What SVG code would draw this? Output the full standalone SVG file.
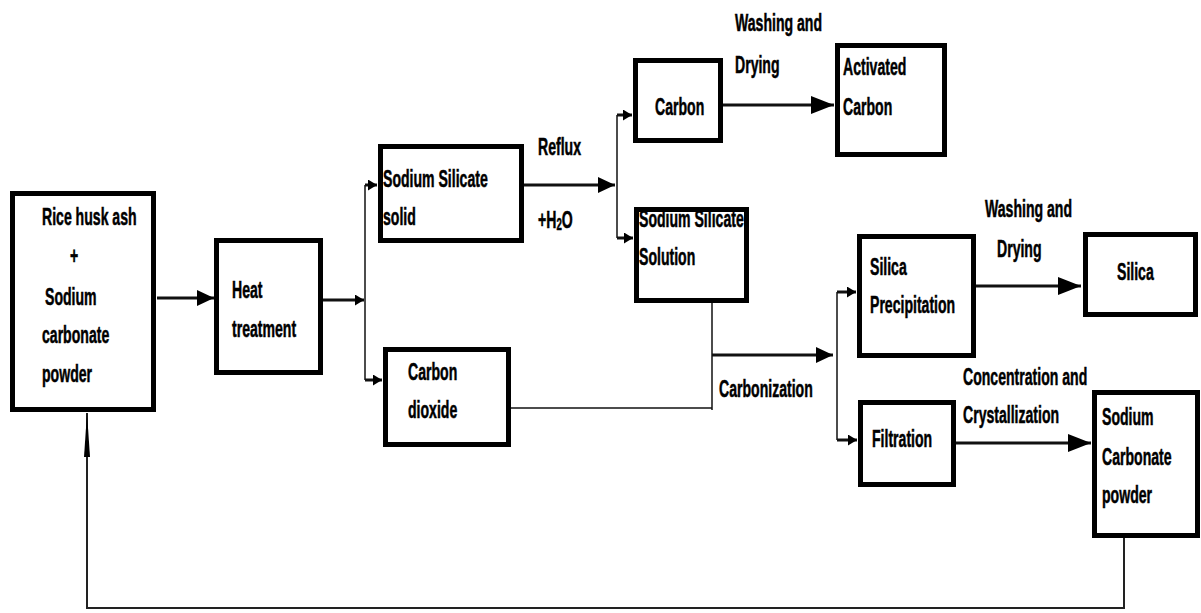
<svg xmlns="http://www.w3.org/2000/svg" width="1201" height="613" viewBox="0 0 1201 613">
<style>
.box{fill:#fff;stroke:#000;stroke-width:5}
.t{font-family:"Liberation Sans",Arial,sans-serif;font-weight:bold;font-size:16px;fill:#000;stroke:#000;stroke-width:0.35}
.ln{fill:none;stroke:#111;stroke-width:3}
.th{fill:none;stroke:#111;stroke-width:1.5}
</style>
<defs>
<marker id="ah" markerUnits="userSpaceOnUse" markerWidth="18" markerHeight="16" refX="17" refY="8" orient="auto"><path d="M0,0 L17,8 L0,16 Z" fill="#000"/></marker>
<marker id="ahl" markerUnits="userSpaceOnUse" markerWidth="24" markerHeight="18" refX="23" refY="9" orient="auto"><path d="M0,0 L23,9 L0,18 Z" fill="#000"/></marker>
<marker id="ahs" markerUnits="userSpaceOnUse" markerWidth="10" markerHeight="11" refX="9" refY="5.5" orient="auto"><path d="M0,0 L9,5.5 L0,11 Z" fill="#000"/></marker>
<marker id="ahf" markerUnits="userSpaceOnUse" markerWidth="45" markerHeight="8" refX="44" refY="4" orient="auto"><path d="M0,1 L44,4 L0,7 Z" fill="#000"/></marker>
</defs>

<g id="connectors">
<path class="ln" d="M157,298 H214" marker-end="url(#ah)"/>
<path class="ln" d="M323,300 H364" marker-end="url(#ahs)"/>
<path class="th" d="M365,185 V380"/>
<path class="ln" d="M365,185 H377" marker-end="url(#ahs)"/>
<path class="ln" d="M365,380 H382" marker-end="url(#ahs)"/>
<path class="ln" d="M524,185 H615" marker-end="url(#ah)"/>
<path class="th" d="M617,115 V238"/>
<path class="ln" d="M617,115 H632" marker-end="url(#ahs)"/>
<path class="ln" d="M617,238 H633" marker-end="url(#ahs)"/>
<path class="ln" d="M723,105 H834" marker-end="url(#ahl)"/>
<path class="th" d="M712,303 V410"/>
<path class="th" d="M511,408 H712"/>
<path class="ln" d="M712,355 H833" marker-end="url(#ah)"/>
<path class="th" d="M837,292 V440"/>
<path class="ln" d="M837,292 H856" marker-end="url(#ahs)"/>
<path class="ln" d="M837,440 H857" marker-end="url(#ahs)"/>
<path class="ln" d="M976,286 H1081" marker-end="url(#ahl)"/>
<path class="ln" d="M956,443 H1091" marker-end="url(#ahl)"/>
<path d="M1124,538 V608 H87 V413" fill="none" stroke="#222" stroke-width="2" marker-end="url(#ahf)"/>
</g>

<g id="n-rice">
<rect class="box" x="12.5" y="193.5" width="141" height="216"/>
<text class="t" transform="matrix(0.88 0 0 1.5 42 225)">Rice husk ash</text>
<text class="t" transform="matrix(0.88 0 0 1.5 70 264)">+</text>
<text class="t" transform="matrix(0.88 0 0 1.5 45 305)">Sodium</text>
<text class="t" transform="matrix(0.88 0 0 1.5 42 343)">carbonate</text>
<text class="t" transform="matrix(0.88 0 0 1.5 42 382)">powder</text>
</g>

<g id="n-heat">
<rect class="box" x="216.5" y="240.5" width="104" height="132"/>
<text class="t" transform="matrix(0.88 0 0 1.5 232 298)">Heat</text>
<text class="t" transform="matrix(0.88 0 0 1.5 232 337)">treatment</text>
</g>

<g id="n-sssolid">
<rect class="box" x="380.5" y="146.5" width="141" height="94"/>
<text class="t" transform="matrix(0.88 0 0 1.5 383 187)">Sodium Silicate</text>
<text class="t" transform="matrix(0.88 0 0 1.5 383 225)">solid</text>
</g>

<g id="n-co2">
<rect class="box" x="385.5" y="349.5" width="123" height="95"/>
<text class="t" transform="matrix(0.88 0 0 1.5 408 380)">Carbon</text>
<text class="t" transform="matrix(0.88 0 0 1.5 408 418)">dioxide</text>
</g>

<g id="n-carbon">
<rect class="box" x="635.5" y="60.5" width="85" height="80"/>
<text class="t" transform="matrix(0.88 0 0 1.5 655 115)">Carbon</text>
</g>

<g id="n-actcarbon">
<rect class="box" x="837.5" y="45.5" width="107" height="109"/>
<text class="t" transform="matrix(0.88 0 0 1.5 843 75)">Activated</text>
<text class="t" transform="matrix(0.88 0 0 1.5 843 115)">Carbon</text>
</g>

<g id="n-sssolution">
<rect class="box" x="636.5" y="209.5" width="110" height="91"/>
<text class="t" transform="matrix(0.88 0 0 1.5 639 227)">Sodium Silicate</text>
<text class="t" transform="matrix(0.88 0 0 1.5 639 265)">Solution</text>
</g>

<g id="n-silicaprecip">
<rect class="box" x="859.5" y="236.5" width="114" height="119"/>
<text class="t" transform="matrix(0.88 0 0 1.5 870 275)">Silica</text>
<text class="t" transform="matrix(0.88 0 0 1.5 870 313)">Precipitation</text>
</g>

<g id="n-silica">
<rect class="box" x="1085.5" y="234.5" width="110" height="80"/>
<text class="t" transform="matrix(0.88 0 0 1.5 1117 280)">Silica</text>
</g>

<g id="n-filtration">
<rect class="box" x="860.5" y="402.5" width="93" height="82"/>
<text class="t" transform="matrix(0.88 0 0 1.5 872 447)">Filtration</text>
</g>

<g id="n-na2co3">
<rect class="box" x="1094.5" y="392.5" width="103" height="143"/>
<text class="t" transform="matrix(0.88 0 0 1.5 1102 425)">Sodium</text>
<text class="t" transform="matrix(0.88 0 0 1.5 1102 465)">Carbonate</text>
<text class="t" transform="matrix(0.88 0 0 1.5 1102 503)">powder</text>
</g>

<g id="labels">
<text class="t" transform="matrix(0.88 0 0 1.5 538 155)">Reflux</text>
<text class="t" transform="matrix(0.88 0 0 1.5 538 228)">+H<tspan font-size="11" dy="1.5">2</tspan><tspan dy="-1.5">O</tspan></text>
<text class="t" transform="matrix(0.88 0 0 1.5 735 31)">Washing and</text>
<text class="t" transform="matrix(0.88 0 0 1.5 735 73)">Drying</text>
<text class="t" transform="matrix(0.88 0 0 1.5 719 397)">Carbonization</text>
<text class="t" transform="matrix(0.88 0 0 1.5 985 217)">Washing and</text>
<text class="t" transform="matrix(0.88 0 0 1.5 997 257)">Drying</text>
<text class="t" transform="matrix(0.88 0 0 1.5 963 385)">Concentration and</text>
<text class="t" transform="matrix(0.88 0 0 1.5 963 423)">Crystallization</text>
</g>
</svg>
